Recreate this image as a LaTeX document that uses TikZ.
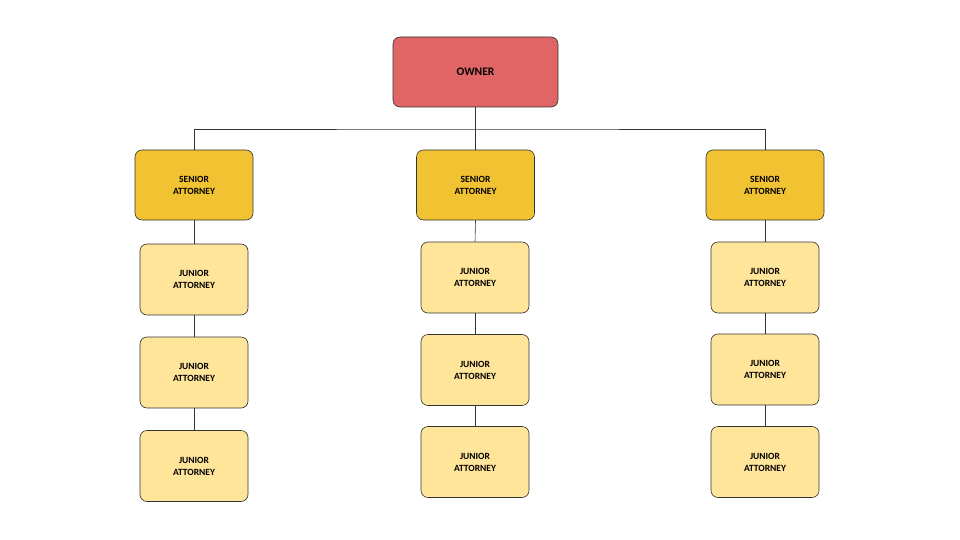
\documentclass[tikz,border=0pt]{standalone}
\usepackage{fontspec}
\setmainfont{Carlito}
\definecolor{ownerc}{HTML}{E06666}
\definecolor{seniorc}{HTML}{F1C232}
\definecolor{juniorc}{HTML}{FFE599}
\begin{document}
\begin{tikzpicture}[x=1pt,y=-1pt,
  box/.style={draw=black!80,line width=0.6pt,rounded corners=7pt,align=center,font=\bfseries\fontsize{9.5}{12}\selectfont,inner sep=0pt},
  ownerbox/.style={box,fill=ownerc,minimum width=165pt,minimum height=70pt,font=\bfseries\fontsize{11.5}{14}\selectfont},
  seniorbox/.style={box,fill=seniorc,minimum width=118pt,minimum height=70pt},
  juniorbox/.style={box,fill=juniorc,minimum width=108pt,minimum height=71pt},
  link/.style={draw=black!80,line width=0.6pt}]
\useasboundingbox (0,0) rectangle (960,540);
\node[ownerbox] (o) at (475.5,72) {OWNER};
\node[seniorbox] (s1) at (194,185) {SENIOR\\ATTORNEY};
\node[seniorbox] (s2) at (475.5,185) {SENIOR\\ATTORNEY};
\node[seniorbox] (s3) at (765,185) {SENIOR\\ATTORNEY};
\node[juniorbox] (a1) at (194,279.5) {JUNIOR\\ATTORNEY};
\node[juniorbox] (a2) at (194,372.5) {JUNIOR\\ATTORNEY};
\node[juniorbox] (a3) at (194,466) {JUNIOR\\ATTORNEY};
\node[juniorbox] (b1) at (475,277.5) {JUNIOR\\ATTORNEY};
\node[juniorbox] (b2) at (475,370) {JUNIOR\\ATTORNEY};
\node[juniorbox] (b3) at (475,462) {JUNIOR\\ATTORNEY};
\node[juniorbox] (c1) at (765,277.5) {JUNIOR\\ATTORNEY};
\node[juniorbox] (c2) at (765,369.5) {JUNIOR\\ATTORNEY};
\node[juniorbox] (c3) at (765,462) {JUNIOR\\ATTORNEY};
\coordinate (bus) at (475.5,129);
\draw[link] (o.south) -- (bus);
\draw[link] (s1.north) |- (bus) -| (s3.north);
\draw[link] (bus) -- (s2.north);
\foreach \p/\q in {s1/a1,a1/a2,a2/a3,s2/b1,b1/b2,b2/b3,s3/c1,c1/c2,c2/c3}
  \draw[link] (\p.south) -- (\q.north);
\end{tikzpicture}
\end{document}
